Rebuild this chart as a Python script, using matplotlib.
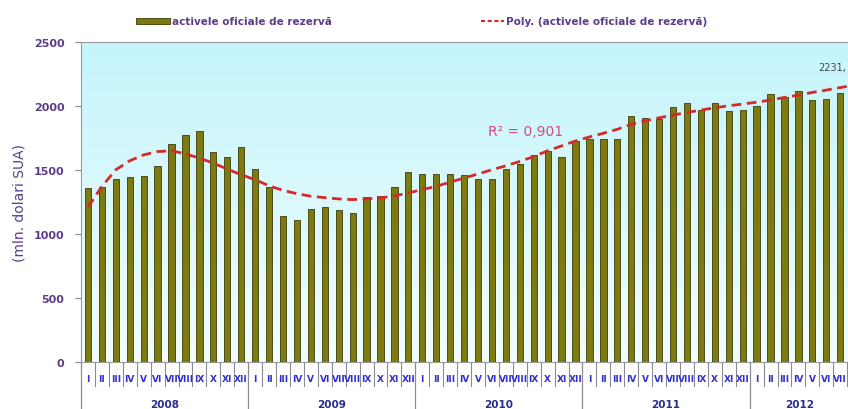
import numpy as np
import matplotlib
matplotlib.use("Agg")
import matplotlib.pyplot as plt
from matplotlib.colors import LinearSegmentedColormap

# monthly official reserve assets, mln USD, 2008 I .. 2012 VII
years = ["2008", "2009", "2010", "2011", "2012"]
months = ["I", "II", "III", "IV", "V", "VI", "VII", "VIII", "IX", "X", "XI", "XII"]
reserves = [1358, 1366, 1428, 1443, 1451, 1529, 1702, 1777, 1806, 1640, 1601, 1676,
            1508, 1366, 1138, 1107, 1195, 1210, 1190, 1165, 1288, 1298, 1371, 1482,
            1467, 1467, 1467, 1461, 1428, 1428, 1511, 1549, 1617, 1648, 1604, 1725,
            1746, 1743, 1743, 1919, 1908, 1901, 1989, 2023, 1966, 2023, 1960, 1966,
            1999, 2093, 2072, 2116, 2046, 2058, 2098]
# polynomial trend (one value per month)
trend = [1209, 1372, 1502, 1572, 1618, 1644, 1650, 1626, 1593, 1554, 1507, 1463,
         1424, 1377, 1341, 1315, 1295, 1284, 1274, 1269, 1274, 1282, 1297, 1321,
         1347, 1372, 1406, 1437, 1469, 1502, 1533, 1567, 1605, 1650, 1688, 1727,
         1758, 1787, 1818, 1857, 1883, 1908, 1929, 1950, 1968, 1986, 2002, 2015,
         2030, 2046, 2067, 2085, 2106, 2124, 2144, 2162]
r2_label = "R² = 0,901"
cut_label = "2231,"

purple = "#5a3c8c"
fig = plt.figure(figsize=(8.48, 4.10), dpi=100)
ax = fig.add_axes([81/848, 47/410, 1 - 81/848, 320/410])

x = np.arange(len(reserves))
xmax = (848 - 81) / 13.93 - 0.5

# background gradient
cmap = LinearSegmentedColormap.from_list("bg", ["#f2fdfe", "#c4f5fb"])
ax.imshow(np.linspace(0, 1, 256).reshape(-1, 1), cmap=cmap, aspect="auto",
          extent=[-0.5, xmax, 0, 2500], origin="lower", zorder=0)

ax.bar(x, reserves, width=0.45, color="#7d7a12", edgecolor="#3d3a08",
       linewidth=0.6, zorder=2)
ax.plot(np.arange(len(trend)), trend, color="#d42a2a", linestyle=(0, (3.5, 2)),
        linewidth=2, zorder=3)

ax.set_xlim(-0.5, xmax)
ax.set_ylim(0, 2500)
ax.set_yticks([0, 500, 1000, 1500, 2000, 2500])
ax.set_yticklabels(["0", "500", "1000", "1500", "2000", "2500"],
                   fontsize=8, color=purple, fontweight="bold")
ax.tick_params(axis="y", length=4, color="#888888", pad=8)
ax.set_xticks([])
for s in ["left", "bottom", "top"]:
    ax.spines[s].set_color("#9a9a9a")
ax.spines["right"].set_visible(False)
ax.set_ylabel("(mln. dolari SUA)", fontsize=10, color=purple, labelpad=5)

# month and year category axis below
trans = ax.get_xaxis_transform()
for i in range(len(reserves) + 1):
    b = i - 0.5
    if b > xmax:
        break
    if i % 12 == 0:
        ax.plot([b, b], [0, -0.15], transform=trans, color="#8a8a9a",
                linewidth=0.9, clip_on=False)
    else:
        ax.plot([b, b], [0, -0.075], transform=trans, color="#8a8a9a",
                linewidth=0.8, clip_on=False)
for i in range(len(reserves)):
    ax.text(i, -0.053, months[i % 12], transform=trans, ha="center", va="center",
            fontsize=6.5, color="#3030d0", fontweight="bold", clip_on=False)
for k, yr in enumerate(years):
    cx = k * 12 + 5.5
    ax.text(min(cx, 51.1), -0.13, yr, transform=trans, ha="center", va="center",
            fontsize=7.5, color="#2a2a90", fontweight="bold", clip_on=False)

ax.text(0.620, 0.678, r2_label, transform=fig.transFigure, ha="center", va="center",
        fontsize=10, color="#d04a8a")
ax.text(0.965, 0.835, cut_label, transform=fig.transFigure, ha="left", va="center",
        fontsize=7, color="#444444")

# legend drawn at the top
fig.patches.append(plt.Rectangle((136/848, 1 - 25/410), 34/848, 6/410,
                                 transform=fig.transFigure, color="#7d7a12",
                                 ec="#3d3a08", lw=0.6))
fig.text(172/848, 1 - 22/410, "activele oficiale de rezervă", fontsize=7.5,
         color=purple, fontweight="bold", va="center")
fig.lines.append(plt.Line2D([481/848, 504/848], [1 - 22/410, 1 - 22/410],
                            transform=fig.transFigure, color="#d42a2a",
                            linestyle=(0, (2, 1.2)), linewidth=1.5))
fig.text(506/848, 1 - 22/410, "Poly. (activele oficiale de rezervă)", fontsize=7.5,
         color=purple, fontweight="bold", va="center")

fig.savefig("out.png", dpi=100)
